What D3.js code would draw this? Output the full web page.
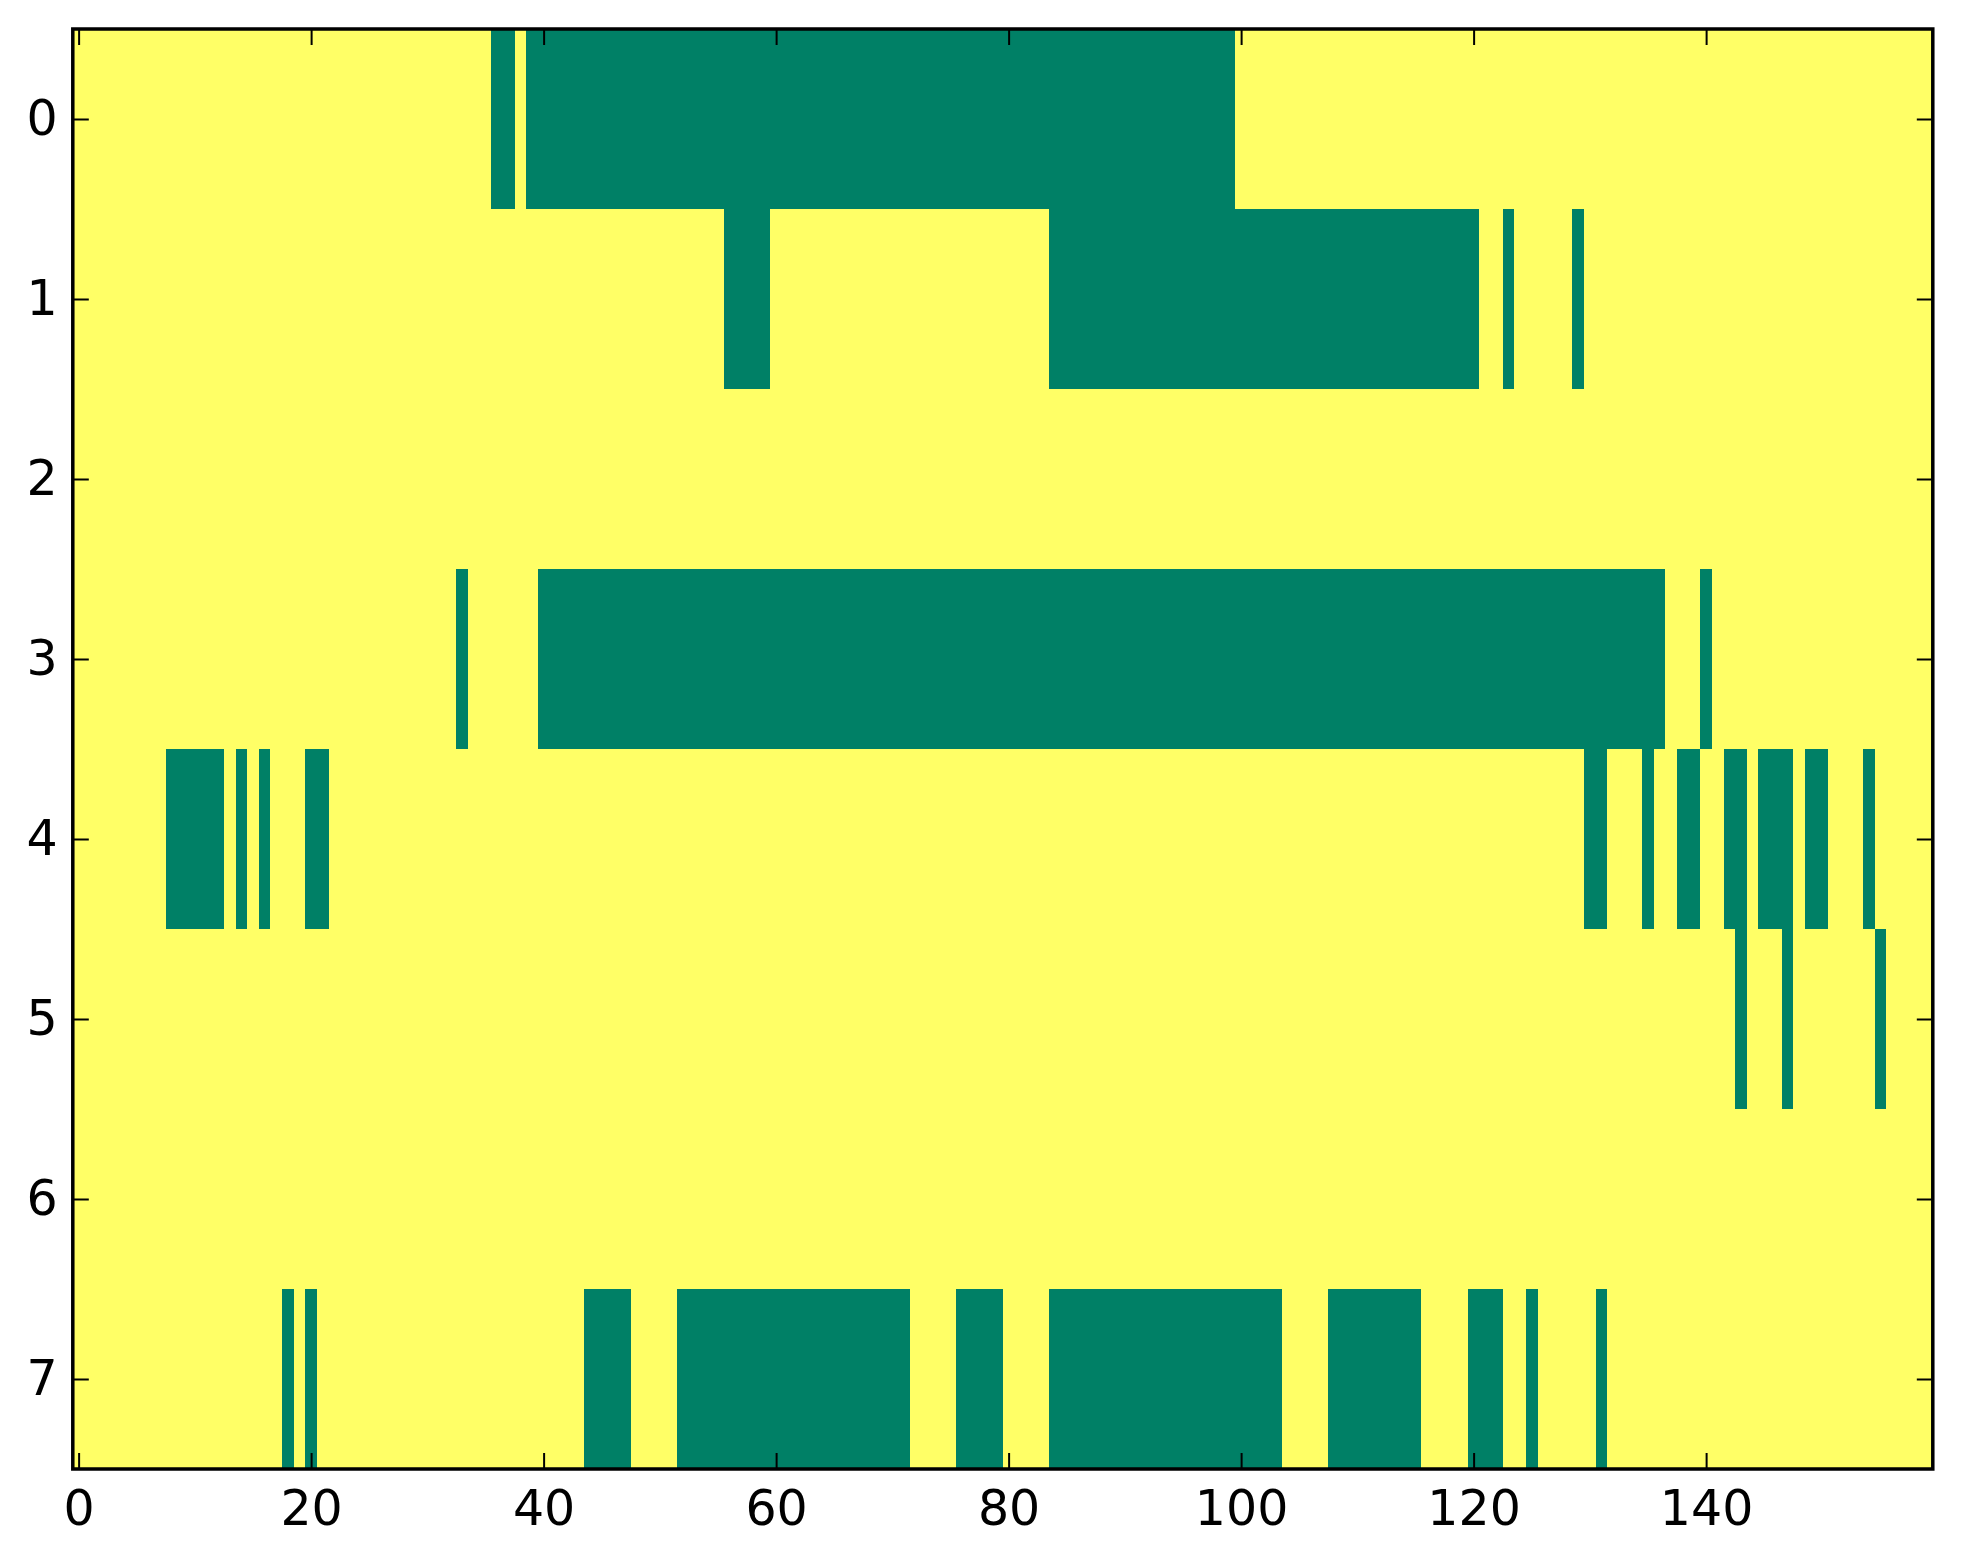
<!DOCTYPE html>
<html>
<head>
<meta charset="utf-8">
<script src="https://cdn.jsdelivr.net/npm/d3@7"></script>
<style>
  body { margin: 0; background: #fff; }
  text { font-family: "DejaVu Sans", sans-serif; }
</style>
</head>
<body>
<div id="heatmap"></div>
<script>
// Grid size: 8 rows, 160 columns
const rowIds = [0, 1, 2, 3, 4, 5, 6, 7];
const nCols = 160;

// Runs of "low" (green) cells in each row, as [firstCol, lastCol]
const row0Runs = [[36, 37], [39, 99]];
const row1Runs = [[56, 59], [84, 120], [123, 123], [129, 129]];
const row2Runs = [];
const row3Runs = [[33, 33], [40, 136], [140, 140]];
const row4Runs = [[8, 12], [14, 14], [16, 16], [20, 21], [130, 131], [135, 135],
                  [138, 139], [142, 143], [145, 147], [149, 150], [154, 154]];
const row5Runs = [[143, 143], [147, 147], [155, 155]];
const row6Runs = [];
const row7Runs = [[18, 18], [20, 20], [44, 47], [52, 71], [76, 79], [84, 103],
                  [108, 115], [120, 122], [125, 125], [131, 131]];

// Tick labels
const xTicks = [0, 20, 40, 60, 80, 100, 120, 140];
const yTicks = [0, 1, 2, 3, 4, 5, 6, 7];

const runsByRow = [row0Runs, row1Runs, row2Runs, row3Runs, row4Runs, row5Runs, row6Runs, row7Runs];

// Turn runs into one cell per (row, col): 0 inside a run, 1 elsewhere
const cells = [];
rowIds.forEach((r, i) => {
    for (let c = 0; c < nCols; c++) {
        const low = runsByRow[i].some(run => c >= run[0] && c <= run[1]);
        cells.push({ row: r, col: c, value: low ? 0 : 1 });
    }
});

// Dimensions and margins
const margin = { top: 29, right: 30.2, bottom: 95, left: 72.8 },
      width = 1963 - margin.left - margin.right,
      height = 1564 - margin.top - margin.bottom;

const svg = d3.select("#heatmap")
    .append("svg")
    .attr("width", 1963)
    .attr("height", 1564)
    .append("g")
    .attr("transform", `translate(${margin.left},${margin.top})`);

// Scales (pixel centers like imshow: extent -0.5 .. n-0.5)
const x = d3.scaleLinear().domain([-0.5, nCols - 0.5]).range([0, width]);
const y = d3.scaleLinear().domain([-0.5, rowIds.length - 0.5]).range([0, height]);

// "summer" colormap ends
const color = d3.scaleOrdinal().domain([0, 1]).range(["#008066", "#ffff66"]);

// Draw the cells
svg.selectAll("rect.cell")
    .data(cells)
    .enter()
    .append("rect")
    .attr("class", "cell")
    .attr("x", d => x(d.col - 0.5))
    .attr("y", d => y(d.row - 0.5))
    .attr("width", x(1) - x(0))
    .attr("height", y(1) - y(0))
    .attr("fill", d => color(d.value))
    .attr("shape-rendering", "crispEdges");

// Axes, ticks pointing inwards on all four sides
const tickLen = 16;

const xAxis = svg.append("g")
    .attr("transform", `translate(0, ${height})`)
    .call(d3.axisBottom(x).tickValues(xTicks).tickFormat(d3.format("d"))
        .tickSizeInner(-tickLen).tickSizeOuter(0).tickPadding(21));

const yAxis = svg.append("g")
    .call(d3.axisLeft(y).tickValues(yTicks).tickFormat(d3.format("d"))
        .tickSizeInner(-tickLen).tickSizeOuter(0).tickPadding(15));

const xAxisTop = svg.append("g")
    .call(d3.axisTop(x).tickValues(xTicks).tickFormat("")
        .tickSizeInner(-tickLen).tickSizeOuter(0));

const yAxisRight = svg.append("g")
    .attr("transform", `translate(${width}, 0)`)
    .call(d3.axisRight(y).tickValues(yTicks).tickFormat("")
        .tickSizeInner(-tickLen).tickSizeOuter(0));

[xAxis, yAxis, xAxisTop, yAxisRight].forEach(g => {
    g.select(".domain").remove();
    g.selectAll(".tick line").attr("stroke", "#000").attr("stroke-width", 2);
    g.selectAll(".tick text")
        .attr("fill", "#000")
        .style("font-size", "49px")
        .style("font-family", "'DejaVu Sans', sans-serif");
});

// Frame around the image
svg.append("rect")
    .attr("x", 0)
    .attr("y", 0)
    .attr("width", width)
    .attr("height", height)
    .attr("fill", "none")
    .attr("stroke", "#000")
    .attr("stroke-width", 3.5);
</script>
</body>
</html>
